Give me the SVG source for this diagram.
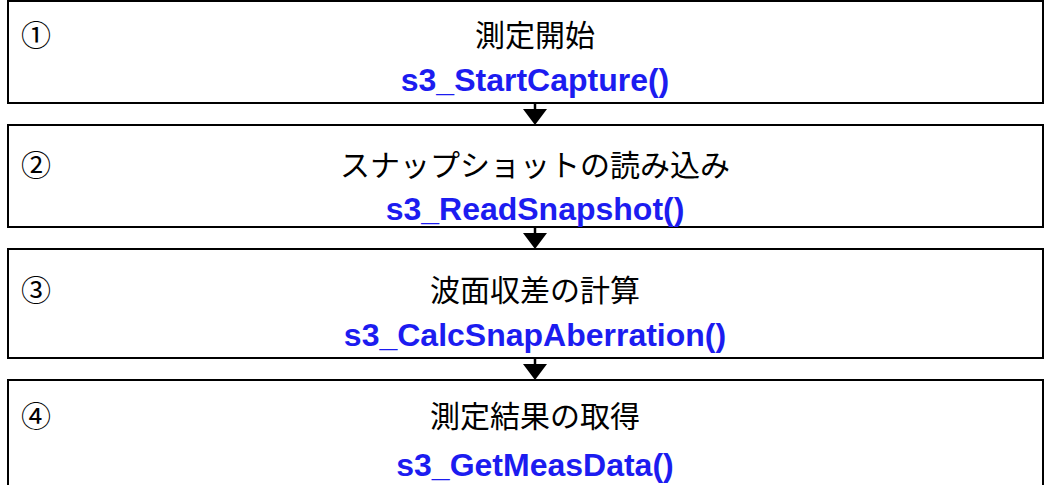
<svg xmlns="http://www.w3.org/2000/svg" width="1051" height="485" viewBox="0 0 1051 485">
<defs>
<style>
.box{fill:#ffffff;stroke:#000000;stroke-width:2}
.num{font-family:"Noto Sans CJK JP","Liberation Sans",sans-serif;font-size:30px;fill:#000}
.jp{font-family:"Noto Sans CJK JP",sans-serif;font-size:30px;fill:#000;text-anchor:middle}
.fn{font-family:"Liberation Sans",Arial,sans-serif;font-size:32px;font-weight:bold;fill:#1c1cf0;text-anchor:middle}
.ln{stroke:#000;stroke-width:2.5;fill:none}
.hd{fill:#000}
</style>
</defs>
<rect width="1051" height="485" fill="#ffffff"/>
<g id="step1">
<rect class="box" x="8" y="1" width="1035" height="102"/>
<text class="num" x="21" y="46">①</text>
<text class="jp" x="535" y="46">測定開始</text>
<text class="fn" x="535" y="91">s3_StartCapture()</text>
</g>
<g id="step2">
<rect class="box" x="8" y="125" width="1035" height="102"/>
<text class="num" x="21" y="176">②</text>
<text class="jp" x="535" y="176">スナップショットの読み込み</text>
<text class="fn" x="535" y="220">s3_ReadSnapshot()</text>
</g>
<g id="step3">
<rect class="box" x="8" y="249" width="1035" height="109"/>
<text class="num" x="21" y="301">③</text>
<text class="jp" x="535" y="301">波面収差の計算</text>
<text class="fn" x="535" y="346">s3_CalcSnapAberration()</text>
</g>
<g id="step4">
<rect class="box" x="8" y="380" width="1035" height="110"/>
<text class="num" x="21" y="427">④</text>
<text class="jp" x="535" y="427">測定結果の取得</text>
<text class="fn" x="535" y="476">s3_GetMeasData()</text>
</g>
<g id="connectors">
<line class="ln" x1="535" y1="103" x2="535" y2="111"/>
<polygon class="hd" points="523,109 547,109 535,125"/>
<line class="ln" x1="535" y1="227" x2="535" y2="235"/>
<polygon class="hd" points="523,233 547,233 535,249"/>
<line class="ln" x1="535" y1="358" x2="535" y2="366"/>
<polygon class="hd" points="523,364 547,364 535,380"/>
</g>
</svg>
